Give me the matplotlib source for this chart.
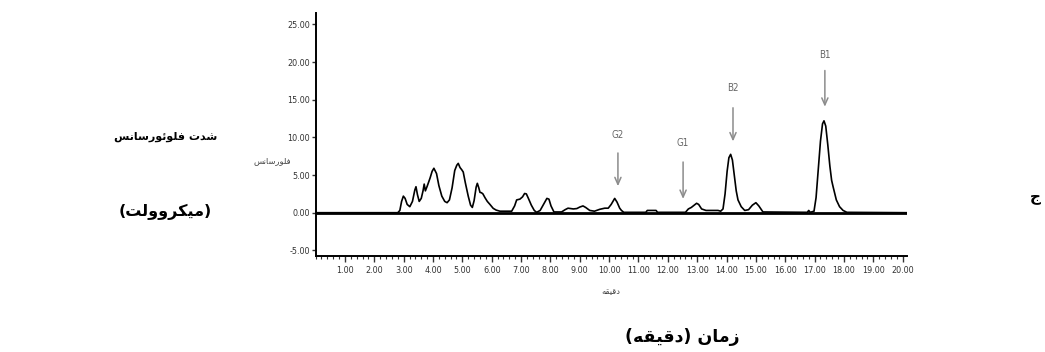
import matplotlib
matplotlib.use("Agg")
import matplotlib.pyplot as plt
from matplotlib.ticker import MultipleLocator, FixedLocator, FormatStrFormatter
from matplotlib import font_manager

# ---------------- data ----------------
time_min = [0.0, 2.80, 2.87, 2.93, 2.99, 3.05, 3.12, 3.21, 3.30, 3.38, 3.42, 3.47, 3.53, 3.60, 3.66,
            3.70, 3.74, 3.80, 3.90, 3.97, 4.03, 4.08, 4.12, 4.20, 4.30, 4.40, 4.48, 4.56, 4.65, 4.74,
            4.81, 4.86, 4.92, 4.98, 5.03, 5.10, 5.20, 5.28, 5.34, 5.40, 5.47, 5.51, 5.56, 5.60, 5.65,
            5.70, 5.77, 5.85, 5.94, 6.05, 6.15, 6.28, 6.68, 6.78, 6.85, 6.96, 7.05, 7.12, 7.18, 7.25,
            7.35, 7.45, 7.53, 7.65, 7.78, 7.88, 7.95, 8.02, 8.12, 8.38, 8.50, 8.60, 8.78, 8.90, 9.00,
            9.11, 9.20, 9.34, 9.50, 9.68, 9.85, 9.97, 10.07, 10.19, 10.27, 10.36, 10.42, 10.50, 11.25,
            11.30, 11.60, 11.65, 12.60, 12.70, 12.80, 12.90, 12.98, 13.05, 13.15, 13.30, 13.71, 13.80,
            13.88, 13.95, 14.02, 14.08, 14.14, 14.20, 14.27, 14.33, 14.39, 14.50, 14.62, 14.75, 14.88,
            15.00, 15.10, 15.24, 16.75, 16.80, 16.85, 16.98, 17.05, 17.12, 17.20, 17.27, 17.32, 17.38,
            17.45, 17.52, 17.58, 17.63, 17.74, 17.85, 17.97, 18.10, 20.15]
signal_uv = [0.0, 0.0, 0.3, 1.5, 2.2, 1.9, 1.1, 0.8, 1.5, 3.0, 3.45, 2.4, 1.5, 1.9, 2.9,
             3.8, 2.9, 3.5, 4.6, 5.5, 5.9, 5.5, 5.2, 3.6, 2.2, 1.5, 1.33, 1.7, 3.3, 5.6,
             6.3, 6.55, 6.0, 5.7, 5.4, 4.0, 2.2, 1.0, 0.7, 1.6, 3.4, 3.9, 3.3, 2.7, 2.65,
             2.5, 2.0, 1.5, 1.1, 0.58, 0.35, 0.2, 0.2, 0.9, 1.7, 1.8, 2.1, 2.55, 2.5, 1.9,
             1.0, 0.3, 0.05, 0.3, 1.2, 1.9, 1.8, 0.9, 0.1, 0.1, 0.4, 0.6, 0.5, 0.55, 0.75,
             0.9, 0.7, 0.3, 0.2, 0.45, 0.6, 0.6, 1.1, 1.9, 1.4, 0.6, 0.3, 0.05, 0.05,
             0.3, 0.3, 0.05, 0.05, 0.5, 0.7, 1.0, 1.25, 1.1, 0.5, 0.3, 0.3, 0.2,
             0.5, 2.5, 5.5, 7.3, 7.75, 7.0, 4.8, 2.9, 1.7, 0.8, 0.3, 0.4, 1.0,
             1.33, 0.9, 0.1, 0.05, 0.3, 0.05, 0.2, 2.0, 5.5, 9.5, 11.8, 12.2, 11.5,
             9.0, 6.2, 4.3, 3.45, 1.7, 0.8, 0.3, 0.05, 0.0]

peak_names = ["G2", "G1", "B2", "B1"]
peak_time = [10.30, 12.52, 14.22, 17.35]
label_level = [10.3, 9.2, 16.5, 21.0]
arrow_tail = [8.3, 7.1, 14.3, 19.25]
arrow_head = [3.15, 1.46, 9.1, 13.7]

y_ticks = [-5, 0, 5, 10, 15, 20, 25]
x_ticks = list(range(1, 21))

y_title_line1 = "شدت فلوئورسانس"
y_title_line2 = "(میکروولت)"
x_title = "زمان (دقیقه)"
panel_letter = "ج"
small_y_label = "فلورسانس"
small_x_label = "دقیقه"

# ---------------- minimal Arabic shaping (logical -> visual) ----------------
DUAL = {
    'ت': ('\uFE95', '\uFE96', '\uFE97', '\uFE98'),
    'ج': ('\uFE9D', '\uFE9E', '\uFE9F', '\uFEA0'),
    'س': ('\uFEB1', '\uFEB2', '\uFEB3', '\uFEB4'),
    'ش': ('\uFEB5', '\uFEB6', '\uFEB7', '\uFEB8'),
    'ف': ('\uFED1', '\uFED2', '\uFED3', '\uFED4'),
    'ق': ('\uFED5', '\uFED6', '\uFED7', '\uFED8'),
    'ل': ('\uFEDD', '\uFEDE', '\uFEDF', '\uFEE0'),
    'م': ('\uFEE1', '\uFEE2', '\uFEE3', '\uFEE4'),
    'ن': ('\uFEE5', '\uFEE6', '\uFEE7', '\uFEE8'),
    'ه': ('\uFEE9', '\uFEEA', '\uFEEB', '\uFEEC'),
    'ئ': ('\uFE89', '\uFE8A', '\uFE8B', '\uFE8C'),
    'ی': ('\uFEEF', '\uFEF0', '\uFEF3', '\uFEF4'),
    'ک': ('\uFED9', '\uFEDA', '\uFEDB', '\uFEDC'),
}
RIGHT = {
    'ا': ('\uFE8D', '\uFE8E'),
    'د': ('\uFEA9', '\uFEAA'),
    'ر': ('\uFEAD', '\uFEAE'),
    'ز': ('\uFEAF', '\uFEB0'),
    'و': ('\uFEED', '\uFEEE'),
}


def shape(text):
    out = []
    n = len(text)
    for i, ch in enumerate(text):
        if ch not in DUAL and ch not in RIGHT:
            out.append(ch)
            continue
        prev_c = text[i - 1] if i > 0 else ''
        next_c = text[i + 1] if i + 1 < n else ''
        join_prev = prev_c in DUAL
        join_next = ch in DUAL and (next_c in DUAL or next_c in RIGHT)
        if ch in DUAL:
            iso, fin, ini, med = DUAL[ch]
            if join_prev and join_next:
                out.append(med)
            elif join_prev:
                out.append(fin)
            elif join_next:
                out.append(ini)
            else:
                out.append(iso)
        else:
            iso, fin = RIGHT[ch]
            out.append(fin if join_prev else iso)
    vis = ''.join(reversed(out))
    return vis.translate(str.maketrans({'(': ')', ')': '('}))


# ---------------- fonts ----------------
available = {(f.name, f.stretch) for f in font_manager.fontManager.ttflist}
names = {a for a, _ in available}
if "Liberation Sans Narrow" in names:
    tick_font = dict(family=["Liberation Sans Narrow", "DejaVu Sans"], stretch="normal")
elif ("DejaVu Sans", "condensed") in available or ("DejaVu Sans", "semi-condensed") in available:
    tick_font = dict(family=["DejaVu Sans"], stretch="condensed")
else:
    tick_font = dict(family=["Liberation Sans", "DejaVu Sans"], stretch="normal")

# ---------------- figure ----------------
fig = plt.figure(figsize=(10.45, 3.52), dpi=100)
ax = fig.add_axes([0.302, 0.2727, 0.566, 0.690])

ax.plot(time_min, signal_uv, color="black", lw=1.2, zorder=3)
ax.plot([0, 20.15], [0, 0], color="black", lw=2.0, zorder=2)

ax.set_xlim(0, 20.15)
ax.set_ylim(-5.75, 26.5)

for sp in ("top", "right"):
    ax.spines[sp].set_visible(False)
for sp in ("left", "bottom"):
    ax.spines[sp].set_linewidth(1.4)
    ax.spines[sp].set_color("black")

ax.yaxis.set_major_locator(FixedLocator(y_ticks))
ax.yaxis.set_major_formatter(FormatStrFormatter("%.2f"))
ax.xaxis.set_major_locator(FixedLocator(x_ticks))
ax.xaxis.set_major_formatter(FormatStrFormatter("%.2f"))
ax.xaxis.set_minor_locator(MultipleLocator(0.2))

ax.tick_params(axis="y", direction="out", length=3, width=1, pad=1, labelsize=6.5,
               labelcolor="#333333", colors="#333333")
ax.tick_params(axis="x", which="major", direction="out", length=4, width=1, pad=3,
               labelsize=6.5, labelcolor="#333333", colors="#333333")
ax.tick_params(axis="x", which="minor", direction="out", length=2.5, width=0.8, colors="#333333")
for lab in ax.get_xticklabels() + ax.get_yticklabels():
    lab.set_family(tick_font["family"])
    lab.set_stretch(tick_font["stretch"])

for name, t, lv, tail, head in zip(peak_names, peak_time, label_level, arrow_tail, arrow_head):
    ax.annotate("", xy=(t, head), xytext=(t, tail),
                arrowprops=dict(arrowstyle="->,head_length=0.5,head_width=0.22",
                                color="#8c8c8c", lw=1.1), zorder=4)
    ax.text(t, lv, name, ha="center", va="center", fontsize=7, color="#666666",
            family=tick_font["family"], stretch=tick_font["stretch"], zorder=4)

arabic_family = ["DejaVu Sans"]
fig.text(272 / 1045, 1 - 161 / 352, shape(small_y_label), ha="center", va="center",
         fontsize=6, color="#444444", family=arabic_family)
fig.text(611 / 1045, 1 - 292 / 352, shape(small_x_label), ha="center", va="center",
         fontsize=6, color="#444444", family=arabic_family)

fig.text(166 / 1045, 1 - 137 / 352, shape(y_title_line1), ha="center", va="center",
         fontsize=8, fontweight="bold", color="black", family=arabic_family)
fig.text(165 / 1045, 1 - 212 / 352, shape(y_title_line2), ha="center", va="center",
         fontsize=11.5, fontweight="bold", color="black", family=arabic_family)
fig.text(682 / 1045, 1 - 337 / 352, shape(x_title), ha="center", va="center",
         fontsize=12.5, fontweight="bold", color="black", family=arabic_family)
fig.text(1035 / 1045, 1 - 197 / 352, shape(panel_letter), ha="center", va="center",
         fontsize=11, fontweight="bold", color="black", family=arabic_family)

fig.savefig("out.png", dpi=100, facecolor="white")
